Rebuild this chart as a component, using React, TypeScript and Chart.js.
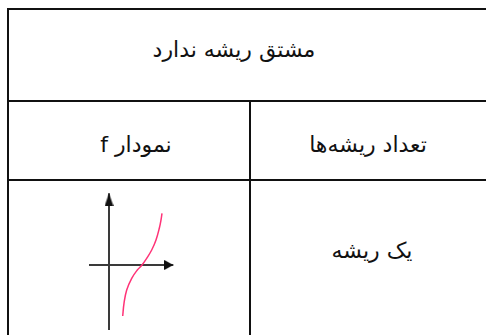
import React, { useEffect, useRef } from 'react';
import { Chart, registerables } from 'chart.js';
Chart.register(...registerables);

// ---- table texts ----
const titleText = 'مشتق ریشه ندارد';
const headerTexts = ['نمودار f', 'تعداد ریشه‌ها'];
const rowTexts = ['یک ریشه'];

// ---- sketch of f (units: 1 unit ≈ 10px, origin at axes crossing) ----
const curveX = [1.37, 1.5, 1.77, 2.27, 2.83, 3.3, 3.77, 4.27, 4.7, 5.03, 5.2, 5.3];
const curveY = [-5.1, -3.83, -2.5, -1.33, -0.5, 0.0, 0.67, 1.5, 2.5, 3.67, 4.5, 5.17];
const xAxisRange = [-2.0, 6.43];
const yAxisRange = [-6.5, 7.17];
const viewX = [-3, 9];
const viewY = [-7, 8];

const LINE = '#111';
const FONT = "'DejaVu Sans', 'Noto Sans', sans-serif";

function makeArrow(dir: 'right' | 'up'): HTMLCanvasElement {
  const c = document.createElement('canvas');
  const ctx = c.getContext('2d')!;
  if (dir === 'right') {
    const L = 9, W = 10;
    c.width = 2 * L; c.height = W;
    ctx.fillStyle = '#111';
    ctx.beginPath();
    ctx.moveTo(0, 0);
    ctx.lineTo(L, W / 2);
    ctx.lineTo(0, W);
    ctx.closePath();
    ctx.fill();
  } else {
    const L = 13, W = 9;
    c.width = W; c.height = 2 * L;
    ctx.fillStyle = '#111';
    ctx.beginPath();
    ctx.moveTo(W / 2, L);
    ctx.lineTo(W, 2 * L);
    ctx.lineTo(0, 2 * L);
    ctx.closePath();
    ctx.fill();
  }
  return c;
}

function Graph() {
  const ref = useRef<HTMLCanvasElement>(null);
  useEffect(() => {
    if (!ref.current) return;
    const right = makeArrow('right');
    const up = makeArrow('up');
    const chart = new Chart(ref.current, {
      type: 'scatter',
      data: {
        datasets: [
          {
            data: curveX.map((x, i) => ({ x, y: curveY[i] })),
            showLine: true,
            borderColor: 'rgb(255, 51, 119)',
            borderWidth: 1.5,
            tension: 0.4,
            pointRadius: 0,
            order: 0,
          },
          {
            data: xAxisRange.map((x) => ({ x, y: 0 })),
            showLine: true,
            borderColor: '#3a3a3a',
            borderWidth: 2,
            pointStyle: (c: any) => (c.dataIndex === xAxisRange.length - 1 ? right : false) as any,
            pointRadius: 5,
            order: 1,
          },
          {
            data: yAxisRange.map((y) => ({ x: 0, y })),
            showLine: true,
            borderColor: '#3a3a3a',
            borderWidth: 2,
            pointStyle: (c: any) => (c.dataIndex === yAxisRange.length - 1 ? up : false) as any,
            pointRadius: 5,
            order: 1,
          },
        ],
      },
      options: {
        responsive: false,
        maintainAspectRatio: false,
        animation: false,
        layout: { padding: 0, autoPadding: false },
        plugins: { legend: { display: false }, tooltip: { enabled: false } },
        scales: {
          x: { type: 'linear', display: false, min: viewX[0], max: viewX[1] },
          y: { type: 'linear', display: false, min: viewY[0], max: viewY[1] },
        },
      },
    });
    return () => chart.destroy();
  }, []);
  return (
    <canvas
      ref={ref}
      width={120}
      height={150}
      style={{ position: 'absolute', left: 79, top: 185, width: 120, height: 150 }}
    />
  );
}

function Line(p: { l: number; t: number; w: number; h: number }) {
  return <div style={{ position: 'absolute', left: p.l, top: p.t, width: p.w, height: p.h, background: LINE }} />;
}

function Text(p: { cx: number; cy: number; text: string }) {
  return (
    <div
      dir="rtl"
      style={{
        position: 'absolute',
        left: p.cx - 120,
        width: 240,
        top: p.cy - 16,
        height: 32,
        lineHeight: '32px',
        textAlign: 'center',
        fontFamily: FONT,
        fontSize: 22,
        color: '#111',
        whiteSpace: 'nowrap',
      }}
    >
      {p.text}
    </div>
  );
}

export default function App() {
  return (
    <div style={{ position: 'fixed', left: 0, top: 0, width: 486, height: 335, overflow: 'hidden', background: '#fff' }}>
      <Line l={7} t={8} w={490} h={2} />
      <Line l={7} t={8} w={2} h={340} />
      <Line l={7} t={100} w={490} h={2} />
      <Line l={7} t={179} w={490} h={2} />
      <Line l={249} t={100} w={2} h={240} />
      <Text cx={234} cy={50} text={titleText} />
      <Text cx={136} cy={145} text={headerTexts[0]} />
      <Text cx={368} cy={145} text={headerTexts[1]} />
      <Text cx={372} cy={251} text={rowTexts[0]} />
      <Graph />
    </div>
  );
}
